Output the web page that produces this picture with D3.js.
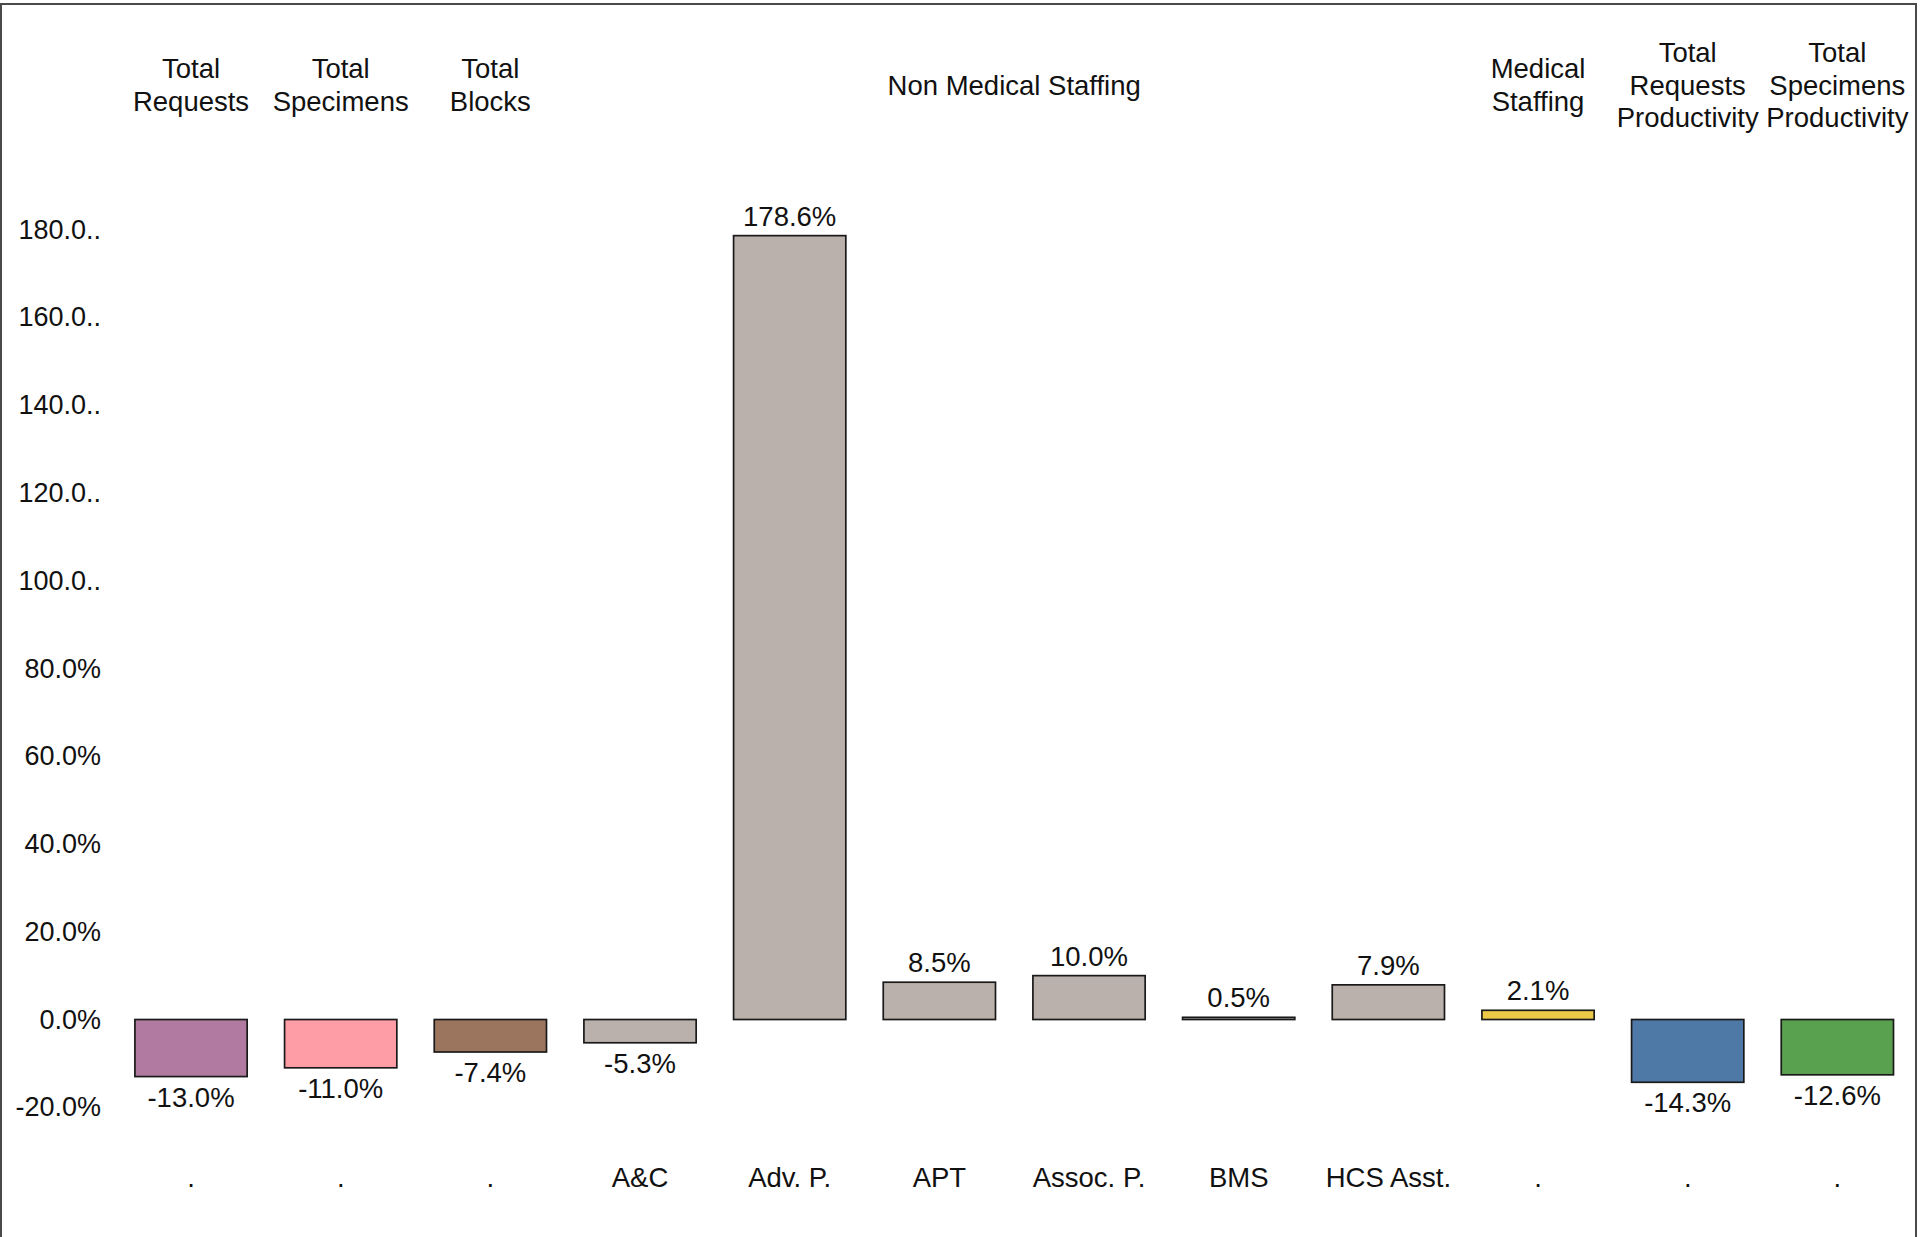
<!DOCTYPE html>
<html>
<head>
<meta charset="utf-8">
<script src="https://cdn.jsdelivr.net/npm/d3@7"></script>
<style>
  html, body { margin: 0; padding: 0; background: #fff; }
  svg { display: block; }
  text { font-family: "Liberation Sans", Arial, sans-serif; fill: #111; }
</style>
</head>
<body>
<svg id="chart" width="1921" height="1237"></svg>
<script>
// ---- Data ----
const categories = ["Total Requests", "Total Specimens", "Total Blocks", "A&C", "Adv. P.", "APT",
                    "Assoc. P.", "BMS", "HCS Asst.", "Medical Staffing",
                    "Total Requests Productivity", "Total Specimens Productivity"];
const subLabels = [".", ".", ".", "A&C", "Adv. P.", "APT", "Assoc. P.", "BMS", "HCS Asst.", ".", ".", "."];
const values = [-13.0, -11.0, -7.4, -5.3, 178.6, 8.5, 10.0, 0.5, 7.9, 2.1, -14.3, -12.6];
const barColors = ["#b07aa1", "#ff9da7", "#9c755f", "#bab0ac", "#bab0ac", "#bab0ac",
                   "#bab0ac", "#bab0ac", "#bab0ac", "#edc948", "#4e79a7", "#59a14f"];
const groupLines = [["Total", "Requests"], ["Total", "Specimens"], ["Total", "Blocks"],
                    ["Non Medical Staffing"], ["Medical", "Staffing"],
                    ["Total", "Requests", "Productivity"], ["Total", "Specimens", "Productivity"]];
const groupFirst = [0, 1, 2, 3, 9, 10, 11];
const groupLast  = [0, 1, 2, 8, 9, 10, 11];
const yTicks = [-20, 0, 20, 40, 60, 80, 100, 120, 140, 160, 180];
const yTickLabels = ["-20.0%", "0.0%", "20.0%", "40.0%", "60.0%", "80.0%",
                     "100.0..", "120.0..", "140.0..", "160.0..", "180.0.."];

// ---- Layout ----
const svg = d3.select("#chart");
const FS = 27.5;

svg.append("rect")
  .attr("x", 1).attr("y", 4).attr("width", 1915).attr("height", 1250)
  .attr("fill", "none").attr("stroke", "#4a4a4a").attr("stroke-width", 2);

const x = d3.scaleBand().domain(categories).range([116.2, 1912.2])
  .paddingInner(0.25).paddingOuter(0.125);
const y = d3.scaleLinear().domain([-20, 180]).range([1107.3, 229.5]);

// Y axis labels (no line, no ticks)
const yAxis = d3.axisLeft(y).tickValues(yTicks)
  .tickFormat((d, i) => yTickLabels[i]).tickSize(0).tickPadding(0);
const yg = svg.append("g").attr("transform", "translate(101,0)").call(yAxis);
yg.select(".domain").remove();
yg.selectAll("text").attr("font-size", 27).attr("fill", "#111")
  .style("font-family", '"Liberation Sans", Arial, sans-serif');

// Bars
svg.append("g").selectAll("rect").data(values).join("rect")
  .attr("x", (d, i) => x(categories[i]))
  .attr("width", x.bandwidth())
  .attr("y", d => y(Math.max(0, d)))
  .attr("height", d => Math.abs(y(d) - y(0)))
  .attr("fill", (d, i) => barColors[i])
  .attr("stroke", "#1a1a1a").attr("stroke-width", 1.7);

// Value labels
svg.append("g").selectAll("text").data(values).join("text")
  .attr("x", (d, i) => x(categories[i]) + x.bandwidth() / 2)
  .attr("y", d => d >= 0 ? y(d) - 10 : y(d) + 30)
  .attr("text-anchor", "middle").attr("font-size", FS)
  .text(d => d.toFixed(1) + "%");

// X axis sub labels (bottom)
const xAxis = d3.axisBottom(x).tickFormat((d, i) => subLabels[i]).tickSize(0).tickPadding(0);
const xg = svg.append("g").attr("transform", "translate(0,1167)").call(xAxis);
xg.select(".domain").remove();
xg.selectAll("text").attr("font-size", FS).attr("fill", "#111")
  .style("font-family", '"Liberation Sans", Arial, sans-serif');

// Column headers (top)
const headerG = svg.append("g");
groupLines.forEach((lines, gi) => {
  const cx = (x(categories[groupFirst[gi]]) + x(categories[groupLast[gi]]) + x.bandwidth()) / 2;
  const n = lines.length;
  lines.forEach((ln, li) => {
    headerG.append("text")
      .attr("x", cx)
      .attr("y", 85 + (li - (n - 1) / 2) * 32.5 + 9.5)
      .attr("text-anchor", "middle").attr("font-size", FS)
      .text(ln);
  });
});
</script>
</body>
</html>
